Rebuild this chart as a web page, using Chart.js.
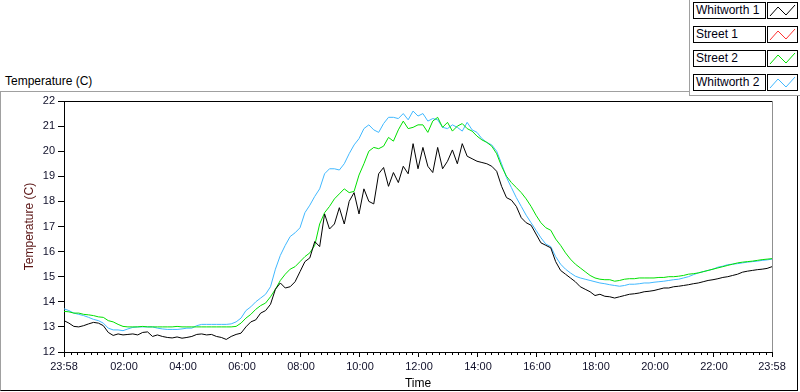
<!DOCTYPE html>
<html>
<head>
<meta charset="utf-8">
<script src="https://cdn.jsdelivr.net/npm/chart.js@4.4.1/dist/chart.umd.min.js"></script>
<style>
    body { margin: 0; background: #fff; font-family: "Liberation Sans", Arial, sans-serif; }
    .wrap { position: relative; width: 800px; height: 392px; overflow: hidden; }
    .panel { position: absolute; left: 0; top: 91px; width: 796px; height: 298px;
        border-left: 1px solid #a0a0a0; border-top: 1px solid #a0a0a0;
        border-right: 1px solid #000; border-bottom: 1px solid #000; }
    .panel__title { position: absolute; left: 5px; top: 74px; font-size: 12px; color: #000; }
    .legend { position: absolute; left: 689px; top: -1px; width: 111px; height: 96px;
        border-left: 1px solid #a0a0a0; border-bottom: 1px solid #a0a0a0; background: #fff; }
    .legend__row { position: absolute; left: 3px; height: 17px; }
    .legend__label { position: absolute; left: 0; top: 0; width: 69px; height: 15px;
        border: 1px solid #000; font-size: 12px; line-height: 15px; padding-left: 2px; color: #000010;
        box-sizing: content-box; white-space: nowrap; }
    .legend__sample { position: absolute; left: 74px; top: 0; width: 29px; height: 15px; border: 1px solid #000; }
    canvas { position: absolute; left: 0; top: 0; }
</style>
</head>
<body>
<div class="wrap">
    <div class="panel"></div>
    <div class="panel__title">Temperature (C)</div>
    <canvas id="chart" width="800" height="392"></canvas>
    <div class="legend" id="legend"></div>
</div>
<script>
// samples every 10 minutes, starting 23:58
const sampleStep = 10;
const startLabel = '23:58';

const seriesNames = ['Whitworth 1', 'Street 1', 'Street 2', 'Whitworth 2'];
const seriesColors = ['#000000', '#ff3030', '#00e000', '#40b8ff'];

const whitworth1 = [
    13.25, 13.15, 13.02, 13.0, 13.05, 13.12, 13.18, 13.15, 13.05, 12.78,
    12.66, 12.72, 12.68, 12.7, 12.72, 12.68, 12.78, 12.8, 12.62, 12.68,
    12.62, 12.58, 12.56, 12.6, 12.55, 12.58, 12.62, 12.7, 12.72, 12.68,
    12.7, 12.62, 12.58, 12.5, 12.62, 12.7, 12.75, 13.0, 13.2, 13.28,
    13.55, 13.65, 13.9, 14.5, 14.75, 14.55, 14.6, 14.8, 15.2, 15.6,
    15.75, 16.4, 16.2, 17.5, 16.9, 17.1, 17.75, 17.1, 18.0, 18.35,
    17.5, 18.5, 18.0, 17.9, 19.1, 19.35, 18.6, 19.15, 18.75, 19.4,
    19.1, 20.3, 19.3, 20.15, 19.4, 19.15, 20.15, 19.3, 19.6, 20.05,
    19.5, 20.3, 19.8, 19.7, 19.6, 19.55, 19.5, 19.4, 19.2, 18.6,
    18.15, 18.05, 17.8, 17.35, 17.15, 17.05, 16.7, 16.35, 16.25, 16.15,
    15.6, 15.25, 15.1, 14.95, 14.8, 14.6, 14.5, 14.4, 14.25, 14.3,
    14.22, 14.2, 14.15, 14.2, 14.25, 14.3, 14.32, 14.35, 14.4, 14.42,
    14.45, 14.5, 14.55, 14.55, 14.6, 14.62, 14.65, 14.68, 14.72, 14.75,
    14.8, 14.85, 14.88, 14.92, 14.97, 15.0, 15.05, 15.1, 15.18, 15.22,
    15.25, 15.28, 15.3, 15.33, 15.4
];

const street1 = [];

const street2 = [
    13.62, 13.6, 13.55, 13.55, 13.5, 13.48, 13.45, 13.4, 13.38, 13.25,
    13.2, 13.1, 13.02, 13.0, 13.0, 13.0, 13.02, 13.0, 13.0, 13.0,
    13.0, 13.0, 13.0, 13.02, 13.0, 13.0, 13.0, 13.0, 13.0, 13.0,
    13.0, 13.0, 13.0, 13.0, 13.0, 13.02, 13.15, 13.35, 13.5, 13.7,
    13.85, 13.95, 14.2, 14.5, 14.85, 15.1, 15.3, 15.4, 15.6, 15.8,
    15.95, 16.25, 17.1, 17.55, 17.8, 18.1, 18.3, 18.5, 18.35, 18.4,
    19.05, 19.5, 20.0, 20.15, 20.1, 20.2, 20.55, 20.4, 20.85, 21.2,
    20.9, 20.95, 21.05, 21.05, 20.75, 21.2, 21.35, 20.95, 21.15, 20.8,
    21.0, 21.1, 20.9, 20.8, 20.6, 20.45, 20.35, 20.2, 19.9, 19.4,
    19.0, 18.75, 18.55, 18.35, 18.1, 17.8, 17.45, 17.15, 16.95, 16.85,
    16.5, 16.25, 15.95, 15.7, 15.5, 15.35, 15.2, 15.05, 14.95, 14.9,
    14.88, 14.88, 14.82, 14.85, 14.9, 14.92, 14.92, 14.95, 14.95, 14.95,
    14.95, 14.97, 14.97, 15.0, 15.0, 15.02, 15.05, 15.1, 15.12, 15.15,
    15.2, 15.25, 15.3, 15.35, 15.4, 15.45, 15.5, 15.55, 15.58, 15.6,
    15.62, 15.65, 15.68, 15.7, 15.72
];

const whitworth2 = [
    13.72, 13.65, 13.55, 13.5, 13.45, 13.38, 13.3, 13.25, 13.15, 12.95,
    12.88, 12.88, 12.85, 12.92, 12.98, 13.0, 13.0, 13.0, 13.0, 12.95,
    12.92, 12.9, 12.9, 12.9, 12.92, 12.95, 12.95, 13.05, 13.1, 13.1,
    13.1, 13.1, 13.1, 13.1, 13.12, 13.2, 13.35, 13.65, 13.8, 14.0,
    14.15, 14.3, 14.6, 15.3, 15.85, 16.25, 16.6, 16.75, 16.95, 17.55,
    17.85, 18.2, 18.5, 19.1, 19.3, 19.3, 19.25, 19.5, 19.9, 20.25,
    20.5, 20.9, 21.05, 20.85, 20.75, 21.1, 21.35, 21.35, 21.3, 21.5,
    21.25, 21.6, 21.4, 21.5, 21.2, 21.3, 21.25, 20.95, 20.9, 21.05,
    20.95, 20.8, 21.15, 20.85, 20.75, 20.5, 20.35, 20.25, 20.0, 19.5,
    18.95, 18.55, 18.15, 17.8, 17.45, 17.15, 16.85, 16.55, 16.3, 16.2,
    15.8, 15.5, 15.3, 15.15, 15.02, 14.95, 14.9, 14.85, 14.8, 14.75,
    14.72, 14.68, 14.65, 14.62, 14.65, 14.7, 14.7, 14.72, 14.75, 14.75,
    14.78, 14.8, 14.82, 14.85, 14.88, 14.9, 14.95, 15.0, 15.08, 15.15,
    15.2, 15.25, 15.3, 15.38, 15.42, 15.48, 15.5, 15.52, 15.55, 15.58,
    15.6, 15.62, 15.65, 15.67, 15.7
];

// x tick positions, minutes after 23:58
const xTicks = [0, 122, 242, 362, 482, 602, 722, 842, 962, 1082, 1202, 1322, 1440];
const yTicks = [12, 13, 14, 15, 16, 17, 18, 19, 20, 21, 22];

function toPoints(arr) {
    return arr.map((v, i) => ({ x: i * sampleStep, y: v }));
}

function timeLabel(min) {
    if (min === 0 || min === 1440) return startLabel;
    let total = (23 * 60 + 58 + min) % 1440;
    let h = Math.floor(total / 60), m = total % 60;
    return String(h).padStart(2, '0') + ':' + String(m).padStart(2, '0');
}

function buildLegend() {
    let html = '';
    seriesNames.forEach(function (name, i) {
        let top = 3 + i * 24;
        html += '<div class="legend__row" style="top:' + top + 'px">' +
            '<div class="legend__label">' + name + '</div>' +
            '<div class="legend__sample"><svg width="29" height="15">' +
            '<polyline points="2,13 10,4 18,12 27,2" fill="none" stroke="' + seriesColors[i] + '" stroke-width="1"/>' +
            '</svg></div></div>';
    });
    document.getElementById('legend').innerHTML = html;
}

// frame on top/right and minor ticks on the time axis
const framePlugin = {
    id: 'frame',
    afterDraw(chart) {
        const ctx = chart.ctx, a = chart.chartArea, xs = chart.scales.x;
        ctx.save();
        ctx.lineWidth = 1;
        ctx.strokeStyle = '#000';
        ctx.beginPath();
        ctx.moveTo(a.left, a.top + 0.5);
        ctx.lineTo(a.right, a.top + 0.5);
        ctx.stroke();
        ctx.strokeStyle = '#909090';
        ctx.beginPath();
        ctx.moveTo(a.right + 0.5, a.top);
        ctx.lineTo(a.right + 0.5, a.bottom);
        ctx.stroke();
        ctx.strokeStyle = '#000';
        ctx.beginPath();
        for (let i = 0; i < xTicks.length - 1; i++) {
            for (let k = 1; k < 9; k++) {
                let v = xTicks[i] + (xTicks[i + 1] - xTicks[i]) * k / 9;
                let px = Math.round(xs.getPixelForValue(v)) + 0.5;
                ctx.moveTo(px, a.bottom);
                ctx.lineTo(px, a.bottom + 3);
            }
        }
        ctx.stroke();
        ctx.restore();
    }
};

buildLegend();

const datasets = [whitworth1, street1, street2, whitworth2].map(function (arr, i) {
    return {
        label: seriesNames[i],
        data: toPoints(arr),
        borderColor: seriesColors[i],
        backgroundColor: seriesColors[i],
        borderWidth: 1,
        pointRadius: 0,
        tension: 0,
        fill: false
    };
});

new Chart(document.getElementById('chart'), {
    type: 'line',
    data: { datasets: datasets },
    plugins: [framePlugin],
    options: {
        responsive: false,
        animation: false,
        layout: { padding: { left: 0, top: 101, right: 28, bottom: 0 } },
        plugins: { legend: { display: false }, tooltip: { enabled: false } },
        scales: {
            x: {
                type: 'linear',
                min: 0,
                max: 1440,
                afterBuildTicks: function (scale) {
                    scale.ticks = xTicks.map(v => ({ value: v }));
                },
                afterFit: function (scale) { scale.height = 40; },
                ticks: {
                    autoSkip: false,
                    maxRotation: 0,
                    padding: 3,
                    color: '#10102a',
                    font: { family: 'Liberation Sans', size: 11 },
                    callback: function (v) { return timeLabel(v); }
                },
                grid: { drawOnChartArea: false, drawTicks: true, tickLength: 5, color: '#000', tickWidth: 1 },
                border: { display: true, color: '#000' },
                title: { display: true, text: 'Time', color: '#000', font: { family: 'Liberation Sans', size: 12 }, padding: { top: 0, bottom: 1 } }
            },
            y: {
                min: 12,
                max: 22,
                afterBuildTicks: function (scale) {
                    scale.ticks = yTicks.map(v => ({ value: v }));
                },
                afterFit: function (scale) { scale.width = 64; },
                ticks: {
                    padding: 3,
                    color: '#10102a',
                    font: { family: 'Liberation Sans', size: 11 }
                },
                grid: { drawOnChartArea: false, drawTicks: true, tickLength: 6, color: '#000' },
                border: { display: true, color: '#000' },
                title: { display: true, text: 'Temperature (C)', color: '#5a1414', font: { family: 'Liberation Sans', size: 12 }, padding: { top: 22, bottom: 0 } }
            }
        }
    }
});
</script>
</body>
</html>
